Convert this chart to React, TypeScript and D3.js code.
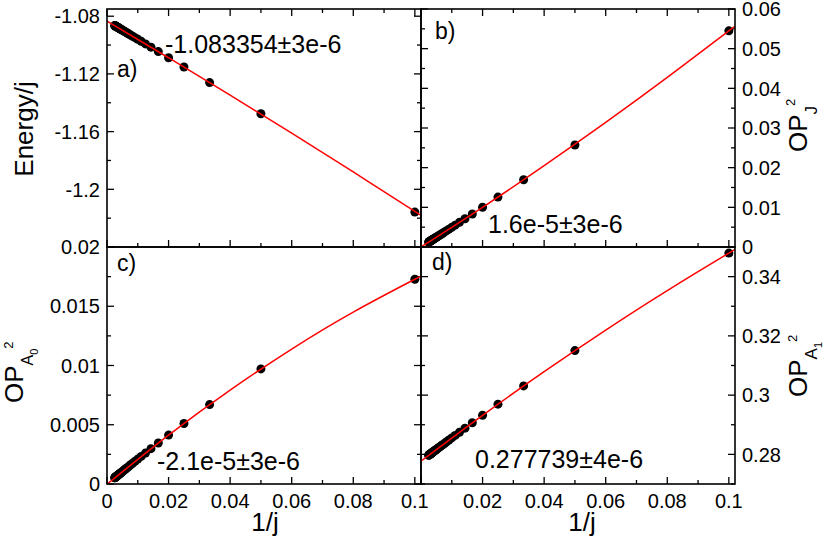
import React from 'react';
import * as d3 from 'd3';

// system sizes j, the x axis is 1/j
const sizes = [
  10, 20, 30, 40, 50, 60, 70, 80, 90, 100, 110, 120, 130, 140, 150, 160, 170, 180, 190, 200,
  210, 220, 230, 240, 250, 260, 270, 280, 290, 300, 310, 320, 330, 340, 350, 360, 370, 380, 390, 400,
];

const energy = [
  -1.2158, -1.1476, -1.12602, -1.11523, -1.10879, -1.10452, -1.10147, -1.09919, -1.09742, -1.09601,
  -1.09486, -1.09389, -1.09308, -1.09238, -1.09178, -1.09125, -1.09078, -1.09037, -1.09, -1.08967,
  -1.08936, -1.08909, -1.08884, -1.08861, -1.0884, -1.08821, -1.08803, -1.08786, -1.08771, -1.08756,
  -1.08742, -1.0873, -1.08718, -1.08707, -1.08696, -1.08686, -1.08677, -1.08668, -1.08659, -1.08651,
];

const opJ = [
  0.0545, 0.0257, 0.01694, 0.01259, 0.01002, 0.00832, 0.00711, 0.00621, 0.00551, 0.00496,
  0.0045, 0.00412, 0.0038, 0.00353, 0.00329, 0.00308, 0.0029, 0.00274, 0.00259, 0.00246,
  0.00235, 0.00224, 0.00214, 0.00205, 0.00197, 0.00189, 0.00182, 0.00176, 0.0017, 0.00164,
  0.00159, 0.00154, 0.00149, 0.00145, 0.0014, 0.00137, 0.00133, 0.00129, 0.00126, 0.00123,
];

const opA0 = [
  0.01728, 0.00971, 0.0067, 0.00511, 0.00413, 0.00346, 0.00298, 0.00261, 0.00233, 0.0021,
  0.00191, 0.00175, 0.00162, 0.0015, 0.0014, 0.00131, 0.00124, 0.00117, 0.00111, 0.00105,
  0.001, 0.00095, 0.00091, 0.00087, 0.00084, 0.00081, 0.00077, 0.00075, 0.00072, 0.0007,
  0.00067, 0.00065, 0.00063, 0.00061, 0.00059, 0.00058, 0.00056, 0.00055, 0.00053, 0.00052,
];

const opA1 = [
  0.34794, 0.31504, 0.3031, 0.29694, 0.29319, 0.29066, 0.28885, 0.28748, 0.28641, 0.28555,
  0.28485, 0.28426, 0.28377, 0.28334, 0.28297, 0.28264, 0.28236, 0.2821, 0.28187, 0.28167,
  0.28148, 0.28131, 0.28116, 0.28102, 0.28089, 0.28077, 0.28065, 0.28055, 0.28045, 0.28036,
  0.28028, 0.2802, 0.28013, 0.28006, 0.27999, 0.27993, 0.27987, 0.27981, 0.27976, 0.27971,
];

// fitted curves (red), sampled along 1/j
const fitX = [0, 0.02, 0.04, 0.06, 0.08, 0.1, 0.102];
const energyFit = [-1.083354, -1.10879, -1.13471, -1.16111, -1.18799, -1.21535, -1.21811];
const opJFit = [0.000016, 0.01002, 0.0205, 0.0314, 0.04274, 0.0545, 0.05572];
const opA0Fit = [-0.000021, 0.00413, 0.00793, 0.01139, 0.01451, 0.01728, 0.01754];
const opA1Fit = [0.277739, 0.29319, 0.30793, 0.32197, 0.33531, 0.34794, 0.34916];

// ticks
const xMajor = [0, 0.02, 0.04, 0.06, 0.08, 0.1];
const xMinor = [0.01, 0.03, 0.05, 0.07, 0.09];
const energyMajor = [-1.24, -1.2, -1.16, -1.12, -1.08];
const energyMinor = [-1.22, -1.18, -1.14, -1.1];
const opJMajor = [0, 0.01, 0.02, 0.03, 0.04, 0.05, 0.06];
const opJMinor = [0.005, 0.015, 0.025, 0.035, 0.045, 0.055];
const opA0Major = [0, 0.005, 0.01, 0.015, 0.02];
const opA0Minor = [0.0025, 0.0075, 0.0125, 0.0175];
const opA1Major = [0.28, 0.3, 0.32, 0.34];
const opA1Minor = [0.27, 0.29, 0.31, 0.33, 0.35];

const fits = ['-1.083354±3e-6', '1.6e-5±3e-6', '-2.1e-5±3e-6', '0.277739±4e-6'];
const panelTags = ['a)', 'b)', 'c)', 'd)'];

// no serif face in the sandbox, Arial metrics are the closest in width
const FONT = "'Liberation Sans', Arial, Helvetica, sans-serif";
const X0 = 107, XM = 421, X1 = 735;
const Y0 = 9, YM = 247, Y1 = 484;
const fmt = (v: number) => String(+v.toFixed(5));

const panels = [
  {key: 'a', x0: X0, x1: XM, y0: Y0, y1: YM, yDomain: [-1.24, -1.075], side: 'left', values: energy, fit: energyFit,
    major: energyMajor, minor: energyMinor, yLabels: [-1.2, -1.16, -1.12, -1.08], xLabels: [] as number[],
    tag: [117, 77], note: [165, 53]},
  {key: 'b', x0: XM, x1: X1, y0: Y0, y1: YM, yDomain: [0, 0.06], side: 'right', values: opJ, fit: opJFit,
    major: opJMajor, minor: opJMinor, yLabels: opJMajor, xLabels: [] as number[],
    tag: [435, 39], note: [488, 233]},
  {key: 'c', x0: X0, x1: XM, y0: YM, y1: Y1, yDomain: [0, 0.02], side: 'left', values: opA0, fit: opA0Fit,
    major: opA0Major, minor: opA0Minor, yLabels: opA0Major, xLabels: xMajor,
    tag: [117, 271], note: [157, 470]},
  {key: 'd', x0: XM, x1: X1, y0: YM, y1: Y1, yDomain: [0.27, 0.35], side: 'right', values: opA1, fit: opA1Fit,
    major: opA1Major, minor: opA1Minor, yLabels: opA1Major, xLabels: xMajor.slice(1),
    tag: [432, 270], note: [475, 468]},
];

function Panel({p, i}: {p: any; i: number}) {
  const x = d3.scaleLinear().domain([0, 0.102]).range([p.x0, p.x1]);
  const y = d3.scaleLinear().domain(p.yDomain).range([p.y1, p.y0]);
  const line = d3
    .line<number>()
    .x((d, k) => x(fitX[k]))
    .y((d) => y(d))
    .curve(d3.curveNatural);
  const topRow = p.y0 === Y0;
  const axisX = p.side === 'left' ? p.x0 : p.x1;
  const dir = p.side === 'left' ? 1 : -1;
  const otherX = p.side === 'left' ? p.x1 : p.x0;

  const xTicks = [...xMajor.map((v) => [v, 7]), ...xMinor.map((v) => [v, 4])];
  const yTicks = [...p.major.map((v: number) => [v, 7]), ...p.minor.map((v: number) => [v, 4])];

  return (
    <g>
      <clipPath id={'clip-' + p.key}>
        <rect x={p.x0} y={p.y0} width={p.x1 - p.x0} height={p.y1 - p.y0} />
      </clipPath>
      {/* ticks, all pointing inward */}
      {xTicks.map(([v, len], k) => (
        <g key={'xt' + k} stroke="black" strokeWidth={1.3}>
          <line x1={x(v)} x2={x(v)} y1={p.y1} y2={p.y1 - len} />
          {topRow && <line x1={x(v)} x2={x(v)} y1={p.y0} y2={p.y0 + len} />}
        </g>
      ))}
      {yTicks.map(([v, len]: number[], k: number) => (
        <g key={'yt' + k} stroke="black" strokeWidth={1.3}>
          <line x1={axisX} x2={axisX + dir * len} y1={y(v)} y2={y(v)} />
          <line x1={otherX} x2={otherX - dir * len} y1={y(v)} y2={y(v)} />
        </g>
      ))}
      <g clipPath={`url(#clip-${p.key})`}>
        {p.values.map((v: number, k: number) => (
          <circle key={k} cx={x(1 / sizes[k])} cy={y(v)} r={4.5} fill="black" />
        ))}
        <path d={line(p.fit) || ''} fill="none" stroke="#ff0000" strokeWidth={1.5} />
      </g>
      <rect x={p.x0} y={p.y0} width={p.x1 - p.x0} height={p.y1 - p.y0} fill="none" stroke="black" strokeWidth={1.6} />
      {/* tick labels */}
      {p.yLabels.map((v: number) => (
        <text
          key={'yl' + v}
          x={p.side === 'left' ? p.x0 - 7 : p.x1 + 7}
          y={y(v)}
          dy="0.36em"
          textAnchor={p.side === 'left' ? 'end' : 'start'}
          fontSize={20}>
          {fmt(v)}
        </text>
      ))}
      {p.xLabels.map((v: number) => (
        <text key={'xl' + v} x={x(v)} y={508} textAnchor="middle" fontSize={20}>
          {fmt(v)}
        </text>
      ))}
      <text x={p.tag[0]} y={p.tag[1]} fontSize={23}>
        {panelTags[i]}
      </text>
      <text x={p.note[0]} y={p.note[1]} fontSize={25}>
        {fits[i]}
      </text>
    </g>
  );
}

export default function App() {
  return (
    <svg
      width={830}
      height={541}
      style={{position: 'absolute', left: 0, top: 0, background: 'white', fontFamily: FONT}}>
      {panels.map((p, i) => (
        <Panel key={p.key} p={p} i={i} />
      ))}
      {/* axis titles */}
      <text transform="translate(33,129) rotate(-90)" textAnchor="middle" fontSize={26}>
        Energy/j
      </text>
      <text transform="translate(23,403) rotate(-90)" fontSize={26}>
        OP
        <tspan fontSize={16} dy={10}>A</tspan>
        <tspan fontSize={11} dy={5}>0</tspan>
        <tspan fontSize={13} dy={-25}>2</tspan>
      </text>
      <text transform="translate(807,152) rotate(-90)" fontSize={26}>
        OP
        <tspan fontSize={17} dy={10}>J</tspan>
        <tspan fontSize={13} dy={-22}>2</tspan>
      </text>
      <text transform="translate(807,397) rotate(-90)" fontSize={26}>
        OP
        <tspan fontSize={17} dy={10}>A</tspan>
        <tspan fontSize={11} dy={5}>1</tspan>
        <tspan fontSize={13} dy={-25}>2</tspan>
      </text>
      <text x={265} y={531} textAnchor="middle" fontSize={26}>
        1/j
      </text>
      <text x={582} y={531} textAnchor="middle" fontSize={26}>
        1/j
      </text>
    </svg>
  );
}
